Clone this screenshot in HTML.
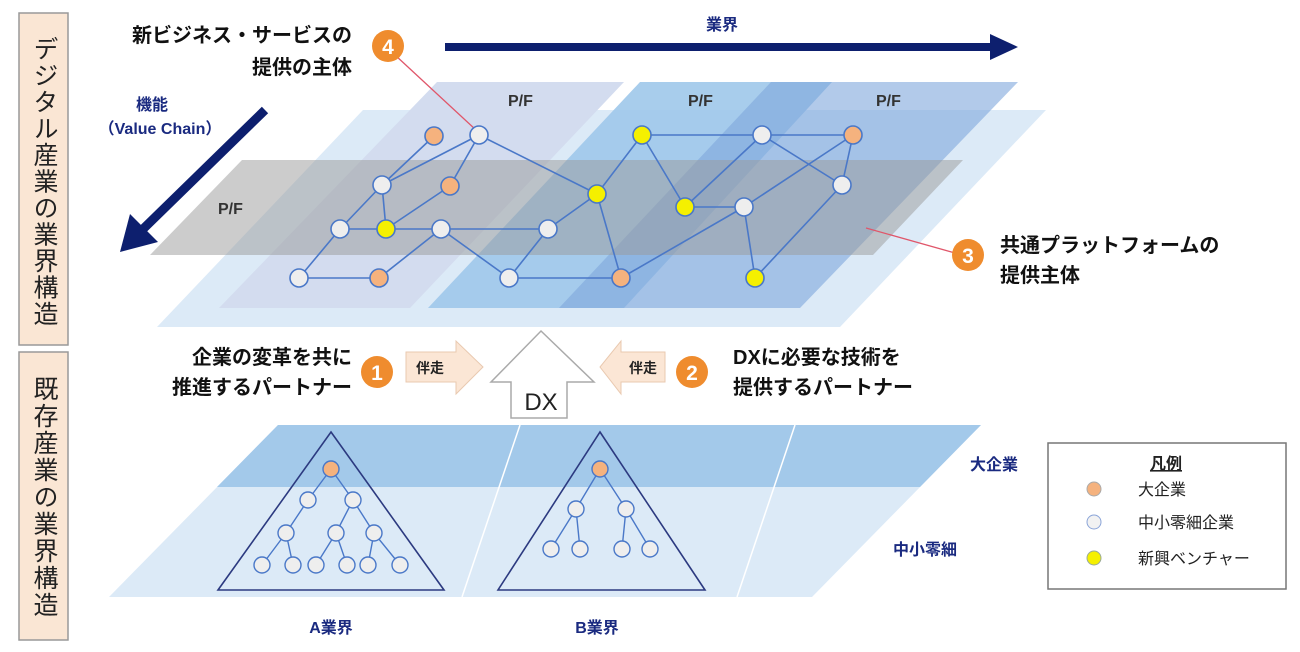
<!DOCTYPE html>
<html><head><meta charset="utf-8"><style>
html,body{margin:0;padding:0;background:#fff;}
svg{display:block;font-family:"Liberation Sans","Noto Sans CJK JP",sans-serif;}
</style></head><body>
<svg width="1300" height="652" viewBox="0 0 1300 652" xmlns="http://www.w3.org/2000/svg">
<rect x="19" y="13" width="49" height="332" fill="#fae6d4" stroke="#999" stroke-width="1.5"/>
<rect x="19" y="352" width="49" height="288" fill="#fae6d4" stroke="#999" stroke-width="1.5"/>
<text x="44" y="36" font-size="25" fill="#222" style="writing-mode:tb;glyph-orientation-vertical:0" letter-spacing="1.5">デジタル産業の業界構造</text>
<text x="44" y="376" font-size="25" fill="#222" style="writing-mode:tb;glyph-orientation-vertical:0" letter-spacing="2">既存産業の業界構造</text>

<polygon points="363,110 1046,110 840,327 157,327" fill="#dceaf7"/>
<polygon points="437,82 624,82 410,308 219,308" fill="#d3dcef"/>
<polygon points="640,82 832,82 624,308 428,308" fill="#9ec8ea" opacity="0.9"/>
<polygon points="771,82 1018,82 800,308 559,308" fill="#7fa6dc" opacity="0.6"/>
<polygon points="242,160 963,160 873,255 150,255" fill="#9a9a9a" opacity="0.5"/>
<g font-size="16" fill="#333" font-weight="bold">
<text x="508" y="106">P/F</text><text x="688" y="106">P/F</text><text x="876" y="106">P/F</text><text x="218" y="214">P/F</text>
</g>
<line x1="395" y1="55" x2="476" y2="130" stroke="#e0566a" stroke-width="1.3"/>
<line x1="866" y1="228" x2="955" y2="253" stroke="#e0566a" stroke-width="1.3"/>
<g stroke="#4a78c8" stroke-width="1.6" fill="none">
<path d="M434,136L382,185M479,135L382,185M479,135L450,186M479,135L597,194M382,185L340,229M382,185L386,229M450,186L386,229M340,229L441,229M441,229L548,229M340,229L299,278M299,278L379,278M441,229L379,278M441,229L509,278M548,229L509,278M509,278L621,278M548,229L597,194M597,194L621,278M597,194L642,135M642,135L853,135M642,135L685,207M685,207L744,207M762,135L685,207M762,135L842,185M853,135L744,207M853,135L842,185M744,207L755,278M842,185L755,278M621,278L744,207"/>
</g>
<g stroke="#4a78c8" stroke-width="1.6">
<circle cx="434" cy="136" r="9" fill="#f5b27e"/>
<circle cx="479" cy="135" r="9" fill="#eeeeee"/>
<circle cx="382" cy="185" r="9" fill="#eeeeee"/>
<circle cx="450" cy="186" r="9" fill="#f5b27e"/>
<circle cx="340" cy="229" r="9" fill="#eeeeee"/>
<circle cx="386" cy="229" r="9" fill="#f5f000"/>
<circle cx="441" cy="229" r="9" fill="#eeeeee"/>
<circle cx="548" cy="229" r="9" fill="#eeeeee"/>
<circle cx="597" cy="194" r="9" fill="#f5f000"/>
<circle cx="299" cy="278" r="9" fill="#eeeeee"/>
<circle cx="379" cy="278" r="9" fill="#f5b27e"/>
<circle cx="509" cy="278" r="9" fill="#eeeeee"/>
<circle cx="621" cy="278" r="9" fill="#f5b27e"/>
<circle cx="642" cy="135" r="9" fill="#f5f000"/>
<circle cx="762" cy="135" r="9" fill="#eeeeee"/>
<circle cx="853" cy="135" r="9" fill="#f5b27e"/>
<circle cx="842" cy="185" r="9" fill="#eeeeee"/>
<circle cx="685" cy="207" r="9" fill="#f5f000"/>
<circle cx="744" cy="207" r="9" fill="#eeeeee"/>
<circle cx="755" cy="278" r="9" fill="#f5f000"/>
</g>

<line x1="445" y1="47" x2="992" y2="47" stroke="#0d1f6e" stroke-width="8"/>
<polygon points="990,34 1018,47 990,60" fill="#0d1f6e"/>
<text x="722" y="30" font-size="16" font-weight="bold" fill="#1a2a80" text-anchor="middle">業界</text>
<line x1="265" y1="110" x2="140" y2="232" stroke="#0d1f6e" stroke-width="9"/>
<polygon points="120,252 130,214 158,242" fill="#0d1f6e"/>
<text x="152" y="110" font-size="16" font-weight="bold" fill="#1a2a80" text-anchor="middle">機能</text>
<text x="160" y="134" font-size="16" font-weight="bold" fill="#1a2a80" text-anchor="middle">（Value Chain）</text>

<text x="352" y="42" font-size="20" font-weight="bold" fill="#111" text-anchor="end">新ビジネス・サービスの</text>
<text x="352" y="74" font-size="20" font-weight="bold" fill="#111" text-anchor="end">提供の主体</text>
<circle cx="388" cy="46" r="16" fill="#ef8c2e"/>
<text x="388" y="54" font-size="21" font-weight="bold" fill="#fff" text-anchor="middle">4</text>

<circle cx="968" cy="255" r="16" fill="#ef8c2e"/>
<text x="968" y="263" font-size="21" font-weight="bold" fill="#fff" text-anchor="middle">3</text>
<text x="1000" y="252" font-size="20" font-weight="bold" fill="#111">共通プラットフォームの</text>
<text x="1000" y="282" font-size="20" font-weight="bold" fill="#111">提供主体</text>

<polygon points="541,331 594,382 567,382 567,418 511,418 511,382 491,382" fill="#fff" stroke="#aaa" stroke-width="1.5"/>
<text x="541" y="410" font-size="24" fill="#222" text-anchor="middle">DX</text>
<polygon points="406,352 456,352 456,341 483,367 456,394 456,382 406,382" fill="#fbe6d5" stroke="#e9c9b0" stroke-width="1"/>
<text x="430" y="373" font-size="14" font-weight="bold" fill="#222" text-anchor="middle">伴走</text>
<polygon points="665,352 621,352 621,341 600,367 621,394 621,382 665,382" fill="#fbe6d5" stroke="#e9c9b0" stroke-width="1"/>
<text x="643" y="373" font-size="14" font-weight="bold" fill="#222" text-anchor="middle">伴走</text>
<circle cx="377" cy="372" r="16" fill="#ef8c2e"/>
<text x="377" y="380" font-size="21" font-weight="bold" fill="#fff" text-anchor="middle">1</text>
<circle cx="692" cy="372" r="16" fill="#ef8c2e"/>
<text x="692" y="380" font-size="21" font-weight="bold" fill="#fff" text-anchor="middle">2</text>
<text x="352" y="364" font-size="20" font-weight="bold" fill="#111" text-anchor="end">企業の変革を共に</text>
<text x="352" y="394" font-size="20" font-weight="bold" fill="#111" text-anchor="end">推進するパートナー</text>
<text x="733" y="364" font-size="20" font-weight="bold" fill="#111">DXに必要な技術を</text>
<text x="733" y="394" font-size="20" font-weight="bold" fill="#111">提供するパートナー</text>

<polygon points="278,425 981,425 812,597 109,597" fill="#dceaf7"/>
<polygon points="278,425 981,425 920,487 217,487" fill="#a3c9ea"/>
<line x1="520" y1="425" x2="462" y2="597" stroke="#fff" stroke-width="1.5"/>
<line x1="795" y1="425" x2="737" y2="597" stroke="#fff" stroke-width="1.5"/>
<g fill="none" stroke="#2c3a80" stroke-width="1.6">
<polygon points="331,432 444,590 218,590"/>
<polygon points="600,432 705,590 498,590"/>
</g>
<g stroke="#4a78c8" stroke-width="1.4" fill="none">
<path d="M331,469L308,500M331,469L353,500M308,500L286,533M353,500L336,533M353,500L374,533M286,533L262,565M286,533L293,565M336,533L316,565M336,533L347,565M374,533L368,565M374,533L400,565"/>
<path d="M600,469L576,509M600,469L626,509M576,509L551,549M576,509L580,549M626,509L622,549M626,509L650,549"/>
</g>
<g stroke="#4a78c8" stroke-width="1.4" fill="#eeeeee">
<circle cx="331" cy="469" r="8" fill="#f5b27e"/>
<circle cx="308" cy="500" r="8"/><circle cx="353" cy="500" r="8"/>
<circle cx="286" cy="533" r="8"/><circle cx="336" cy="533" r="8"/><circle cx="374" cy="533" r="8"/>
<circle cx="262" cy="565" r="8"/><circle cx="293" cy="565" r="8"/><circle cx="316" cy="565" r="8"/><circle cx="347" cy="565" r="8"/><circle cx="368" cy="565" r="8"/><circle cx="400" cy="565" r="8"/>
<circle cx="600" cy="469" r="8" fill="#f5b27e"/>
<circle cx="576" cy="509" r="8"/><circle cx="626" cy="509" r="8"/>
<circle cx="551" cy="549" r="8"/><circle cx="580" cy="549" r="8"/><circle cx="622" cy="549" r="8"/><circle cx="650" cy="549" r="8"/>
</g>
<text x="331" y="633" font-size="16" font-weight="bold" fill="#1a2a80" text-anchor="middle">A業界</text>
<text x="597" y="633" font-size="16" font-weight="bold" fill="#1a2a80" text-anchor="middle">B業界</text>
<text x="994" y="470" font-size="16" font-weight="bold" fill="#1a2a80" text-anchor="middle">大企業</text>
<text x="925" y="555" font-size="16" font-weight="bold" fill="#1a2a80" text-anchor="middle">中小零細</text>

<rect x="1048" y="443" width="238" height="146" fill="#fff" stroke="#777" stroke-width="1.5"/>
<text x="1166" y="469" font-size="16" font-weight="bold" fill="#222" text-anchor="middle" text-decoration="underline">凡例</text>
<circle cx="1094" cy="489" r="7" fill="#f5b27e" stroke="#aaa"/>
<circle cx="1094" cy="522" r="7" fill="#f2f2f2" stroke="#8aa4d8"/>
<circle cx="1094" cy="558" r="7" fill="#f5f000" stroke="#9a9"/>
<text x="1138" y="495" font-size="16" fill="#222">大企業</text>
<text x="1138" y="528" font-size="16" fill="#222">中小零細企業</text>
<text x="1138" y="564" font-size="16" fill="#222">新興ベンチャー</text>
</svg>
</body></html>
